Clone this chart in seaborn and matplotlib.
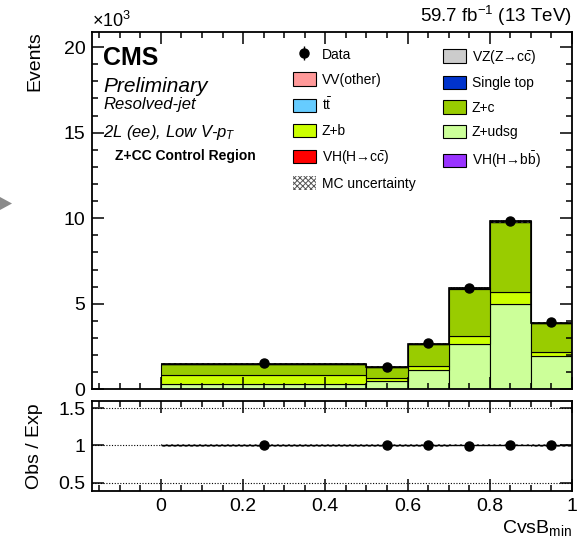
import numpy as np
import pandas as pd
import matplotlib
matplotlib.use("Agg")
import matplotlib.pyplot as plt
import seaborn as sns
from matplotlib.patches import Patch, Polygon
from matplotlib.ticker import MultipleLocator, FixedLocator

# ---------------- data (events per bin) ----------------
bin_edges = [0.0, 0.5, 0.6, 0.7, 0.8, 0.9, 1.0]
z_udsg = [330, 490, 1140, 2660, 4960, 1960]
z_b = [490, 160, 250, 480, 740, 220]
z_c = [650, 650, 1250, 2750, 4050, 1680]
ttbar = [15, 10, 15, 20, 25, 15]
vv_other = [10, 5, 10, 15, 20, 10]
single_top = [3, 2, 3, 5, 6, 4]
vz_zcc = [5, 3, 6, 10, 15, 8]
vh_hcc = [1, 1, 1, 2, 3, 2]
vh_hbb = [1, 1, 1, 1, 1, 1]
data_counts = [1510, 1330, 2680, 5900, 9850, 3940]
data_err = [39, 36, 52, 77, 99, 63]
mc_unc = [25, 20, 35, 60, 80, 40]
mc_rel_unc = [0.02, 0.02, 0.02, 0.015, 0.015, 0.02]

x_ticks = [0.0, 0.2, 0.4, 0.6, 0.8, 1.0]
x_ticklabels = ["0", "0.2", "0.4", "0.6", "0.8", "1"]
y_ticks = [0, 5000, 10000, 15000, 20000]
y_ticklabels = ["0", "5", "10", "15", "20"]
r_ticks = [0.5, 1.0, 1.5]
r_ticklabels = ["0.5", "1", "1.5"]

# process name -> (values, colour, legend label)
procs = {
    "Z+udsg": (z_udsg, "#CCFF99", "Z+udsg"),
    "Z+b": (z_b, "#CCFF00", "Z+b"),
    "Z+c": (z_c, "#99CC00", "Z+c"),
    "ttbar": (ttbar, "#66CCFF", r"t$\bar{\mathregular{t}}$"),
    "VV(other)": (vv_other, "#FF9999", "VV(other)"),
    "Single top": (single_top, "#0033CC", "Single top"),
    "VZ": (vz_zcc, "#CCCCCC", r"VZ(Z→c$\bar{\mathregular{c}}$)"),
    "VHcc": (vh_hcc, "#FF0000", r"VH(H→c$\bar{\mathregular{c}}$)"),
    "VHbb": (vh_hbb, "#9933FF", r"VH(H→b$\bar{\mathregular{b}}$)"),
}
stack_bottom_to_top = ["Z+udsg", "Z+b", "Z+c", "ttbar", "VV(other)",
                       "Single top", "VZ", "VHcc", "VHbb"]

# ---------------- style ----------------
plt.rcdefaults()
plt.rcParams["font.family"] = ["Liberation Sans", "DejaVu Sans"]
plt.rcParams["mathtext.fontset"] = "custom"
plt.rcParams["mathtext.rm"] = "Liberation Sans"
plt.rcParams["mathtext.it"] = "Liberation Sans:italic"
plt.rcParams["mathtext.bf"] = "Liberation Sans:bold"
plt.rcParams["hatch.linewidth"] = 0.7
plt.rcParams["axes.linewidth"] = 1.3

edges = np.array(bin_edges)
centers = 0.5 * (edges[:-1] + edges[1:])
widths = np.diff(edges)

rows = []
for name in stack_bottom_to_top:
    vals = procs[name][0]
    for c, v in zip(centers, vals):
        rows.append({"x": float(c), "w": float(v), "process": name})
df = pd.DataFrame(rows)
palette = {k: procs[k][1] for k in procs}

total = np.sum([procs[k][0] for k in stack_bottom_to_top], axis=0).astype(float)
data_arr = np.array(data_counts, dtype=float)
unc = np.array(mc_unc, dtype=float)
rel = np.array(mc_rel_unc, dtype=float)

W, H = 588, 544
fig = plt.figure(figsize=(W / 100, H / 100), dpi=100)
ax = fig.add_axes([92.3 / W, 1 - 389.3 / H, (572 - 92.3) / W, (389.3 - 31.7) / H])
ax2 = fig.add_axes([92.3 / W, 1 - 490.7 / H, (572 - 92.3) / W, (490.7 - 400.7) / H])

# stacked histogram (seaborn stacks with the first hue level on top)
sns.histplot(data=df, x="x", weights="w", hue="process",
             hue_order=stack_bottom_to_top[::-1], bins=list(bin_edges),
             multiple="stack", palette=palette, alpha=1,
             edgecolor="black", linewidth=0.8, legend=False, ax=ax)

# MC uncertainty band
ax.bar(centers, 2 * unc, bottom=total - unc, width=widths, align="center",
       fill=False, hatch="xxxxxx", edgecolor="#333333", linewidth=0, zorder=3)
ax.stairs(total, edges, color="black", linewidth=1.2, baseline=None, zorder=3)

# data
data_eb = ax.errorbar(centers, data_arr, yerr=data_err, fmt="o", color="black",
                      ms=6.5, elinewidth=1, capsize=0, zorder=5)

ax.set_xlim(-0.167, 1.0)
ax.set_ylim(0, 20900)
ax.set_xlabel("")
ax.set_yticks(y_ticks)
ax.set_yticklabels(y_ticklabels)
ax.xaxis.set_major_locator(FixedLocator(x_ticks))
ax.xaxis.set_minor_locator(MultipleLocator(0.05))
ax.yaxis.set_minor_locator(MultipleLocator(1000))
ax.set_axisbelow(False)
ax.tick_params(which="both", direction="in", top=True, right=True,
               labelbottom=False, labelsize=14, pad=5, color="black", width=1.1)
ax.tick_params(which="major", length=8.5)
ax.tick_params(which="minor", length=4.5)
ax.set_ylabel("Events", fontsize=14, loc="top")
ax.yaxis.set_label_coords(-0.103, 1.0)

# ratio panel
ratio = data_arr / total
ratio_err = np.array(data_err) / total
for yv in r_ticks:
    ax2.axhline(yv, color="black", linestyle=(0, (1, 1.5)), linewidth=0.8, zorder=1)
ax2.bar(centers, 2 * rel, bottom=1 - rel, width=widths,
        align="center", fill=False, hatch="xxxxxx", edgecolor="#666666",
        linewidth=0, zorder=2)
ax2.hlines(1.0, edges[0], edges[-1], color="black", linewidth=1.0, zorder=3)
ax2.errorbar(centers, ratio, yerr=ratio_err, fmt="o", color="black",
             ms=6.5, elinewidth=1, capsize=0, zorder=5)
ax2.set_xlim(-0.167, 1.0)
ax2.set_ylim(0.39, 1.6)
ax2.set_yticks(r_ticks)
ax2.set_yticklabels(r_ticklabels)
ax2.set_xticks(x_ticks)
ax2.set_xticklabels(x_ticklabels)
ax2.xaxis.set_minor_locator(MultipleLocator(0.05))
ax2.set_axisbelow(False)
ax2.tick_params(which="both", direction="in", top=True, right=True,
                labelsize=14, pad=5, color="black", width=1.1)
ax2.tick_params(which="major", length=8.5)
ax2.tick_params(which="minor", length=4.5)
ax2.set_ylabel("Obs / Exp", fontsize=14)
ax2.yaxis.set_label_coords(-0.103, 0.5)
ax2.set_xlabel(r"CvsB$_{\mathregular{min}}$", fontsize=14, loc="right")
ax2.xaxis.set_label_coords(1.0, -0.30)

def ftext(x, y, s, **kw):
    fig.text(x / W, 1 - y / H, s, **kw)

ftext(92, 27, r"×10$^{3}$", fontsize=13, va="baseline", ha="left")
ftext(572, 22, r"59.7 fb$^{-1}$ (13 TeV)", fontsize=13.5, va="baseline", ha="right")
ftext(103, 65, "CMS", fontsize=18, fontweight="bold", va="baseline")
ftext(103, 92, "Preliminary", fontsize=15, fontstyle="italic", va="baseline")
ftext(103, 109, "Resolved-jet", fontsize=12, fontstyle="italic", va="baseline")
ftext(103, 137, r"2L (ee), Low V-$\mathit{p}_{\mathit{T}}$", fontsize=12,
      fontstyle="italic", va="baseline")
ftext(115, 160, "Z+CC Control Region", fontsize=10, fontweight="bold", va="baseline")

fig.add_artist(Polygon([[0 / W, 1 - 197 / H], [12 / W, 1 - 203.5 / H], [0 / W, 1 - 210 / H]],
                       closed=True, transform=fig.transFigure,
                       facecolor="#8a8a8a", edgecolor="none"))

# legends
def patch(k):
    return Patch(facecolor=procs[k][1], edgecolor="black", linewidth=0.8)

unc_handle = Patch(facecolor="white", edgecolor="#555555", hatch="xxxxxx", linewidth=0)

left_keys = ["VV(other)", "ttbar", "Z+b", "VHcc"]
right_keys = ["VZ", "Single top", "Z+c", "Z+udsg", "VHbb"]
left_h = [data_eb] + [patch(k) for k in left_keys] + [unc_handle]
left_l = ["Data"] + [procs[k][2] for k in left_keys] + ["MC uncertainty"]
right_h = [patch(k) for k in right_keys]
right_l = [procs[k][2] for k in right_keys]

leg_kw = dict(loc="upper left", frameon=False, fontsize=10, borderpad=0,
              borderaxespad=0, handlelength=1.65, handleheight=1.12,
              labelspacing=0.73, handletextpad=0.43,
              bbox_transform=fig.transFigure)
leg1 = ax.legend(left_h, left_l, bbox_to_anchor=(293 / W, 1 - 47.5 / H), **leg_kw)
ax.add_artist(leg1)
leg2 = ax.legend(right_h, right_l, bbox_to_anchor=(443 / W, 1 - 47.5 / H), **leg_kw)

fig.savefig("out.png", dpi=100)
